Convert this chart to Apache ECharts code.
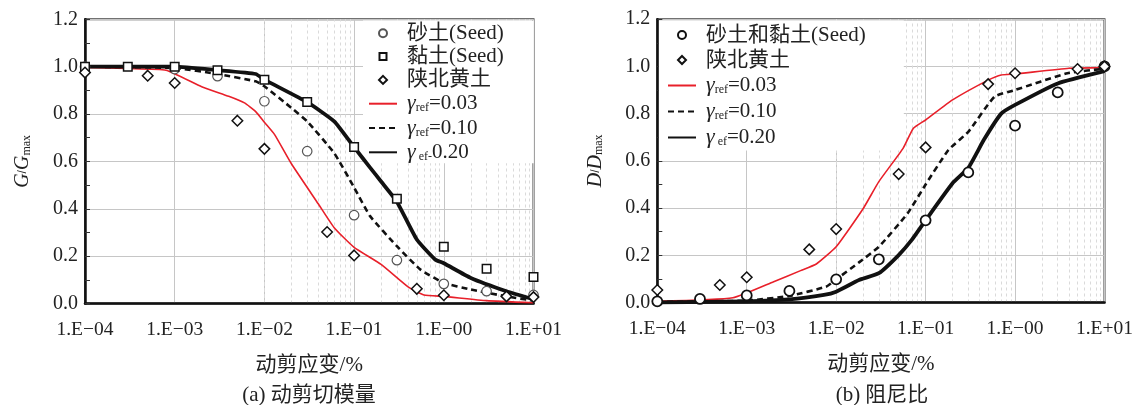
<!DOCTYPE html>
<html>
<head>
<meta charset="utf-8">
<script src="https://cdn.jsdelivr.net/npm/echarts@6/dist/echarts.min.js"></script>
<style>
  html, body { margin: 0; padding: 0; background: #fff; }
  #chart { width: 1136px; height: 405px; }
</style>
</head>
<body>
<div id="chart"></div>
<script>
// axis tick labels
const xTickLabels = ['1.E\u221204', '1.E\u221203', '1.E\u221202', '1.E\u221201', '1.E\u221200', '1.E+01'];
const yTickLabels = ['0.0', '0.2', '0.4', '0.6', '0.8', '1.0', '1.2'];

// (a) G/Gmax - test points
const gSandStrain = [1e-4, 1e-3, 3e-3, 1e-2, 3e-2, 0.1, 0.3, 1, 3, 10];
const gSand = [1.0, 0.99, 0.96, 0.854, 0.643, 0.373, 0.183, 0.083, 0.052, 0.036];
const gClayStrain = [1e-4, 3e-4, 1e-3, 3e-3, 1e-2, 3e-2, 0.1, 0.3, 1, 3, 10];
const gClay = [1.0, 1.0, 1.0, 0.985, 0.945, 0.851, 0.661, 0.442, 0.24, 0.147, 0.112];
const gLoessStrain = [1e-4, 5e-4, 1e-3, 5e-3, 1e-2, 5e-2, 0.1, 0.5, 1, 5, 10];
const gLoess = [0.975, 0.962, 0.931, 0.772, 0.653, 0.302, 0.203, 0.062, 0.035, 0.03, 0.027];

// (a) G/Gmax - model curves
const gRef003Strain = [1e-4, 3e-4, 8e-4, 2e-3, 4e-3, 6e-3, 8e-3, 1e-2, 1.3e-2, 2e-2, 4e-2, 6e-2, 0.1, 0.2, 0.4, 0.6, 1, 3, 10];
const gRef003 = [0.997, 0.992, 0.985, 0.915, 0.875, 0.847, 0.81, 0.765, 0.713, 0.59, 0.42, 0.32, 0.237, 0.165, 0.07, 0.036, 0.03, 0.012, 0.003];
const gRef010Strain = [1e-4, 1e-3, 3e-3, 8e-3, 1e-2, 2e-2, 3e-2, 6e-2, 0.1, 0.15, 0.3, 0.55, 1, 2, 5, 10];
const gRef010 = [1.0, 0.994, 0.969, 0.938, 0.917, 0.826, 0.769, 0.635, 0.49, 0.37, 0.242, 0.143, 0.087, 0.059, 0.03, 0.012];
const gRef020Strain = [1e-4, 1e-3, 3e-3, 8e-3, 1e-2, 3e-2, 6e-2, 0.1, 0.15, 0.2, 0.3, 0.5, 0.8, 1, 2, 5, 10];
const gRef020 = [1.0, 1.0, 0.985, 0.969, 0.945, 0.85, 0.769, 0.66, 0.575, 0.515, 0.43, 0.27, 0.186, 0.17, 0.108, 0.052, 0.018];

// (b) D/Dmax - test points
const dSeedStrain = [1e-4, 3e-4, 1e-3, 3e-3, 1e-2, 3e-2, 0.1, 0.3, 1, 3, 10];
const dSeed = [0.005, 0.015, 0.03, 0.049, 0.098, 0.183, 0.348, 0.551, 0.749, 0.89, 1.0];
const dLoessStrain = [1e-4, 5e-4, 1e-3, 5e-3, 1e-2, 5e-2, 0.1, 0.5, 1, 5, 10];
const dLoess = [0.053, 0.074, 0.107, 0.225, 0.311, 0.544, 0.657, 0.925, 0.971, 0.989, 1.0];

// (b) D/Dmax - model curves
const dRef003Strain = [1e-4, 7e-4, 2e-3, 4e-3, 6e-3, 1e-2, 2e-2, 3e-2, 5.6e-2, 7.3e-2, 0.1, 0.2, 0.5, 0.7, 1, 4, 10];
const dRef003 = [0.005, 0.02, 0.088, 0.135, 0.163, 0.236, 0.397, 0.512, 0.653, 0.738, 0.773, 0.858, 0.942, 0.964, 0.968, 0.992, 0.995];
const dRef010Strain = [1e-4, 1e-3, 3e-3, 7.7e-3, 1e-2, 1.8e-2, 3e-2, 6.3e-2, 0.1, 0.18, 0.3, 0.59, 1, 3.85, 10];
const dRef010 = [0.002, 0.008, 0.028, 0.067, 0.098, 0.17, 0.236, 0.378, 0.5, 0.646, 0.723, 0.872, 0.9, 0.971, 0.99];
const dRef020Strain = [1e-4, 1e-3, 3e-3, 7.3e-3, 1e-2, 1.8e-2, 3e-2, 5e-2, 7e-2, 0.1, 0.2, 0.3, 0.45, 0.7, 1, 3, 10];
const dRef020 = [0.0, 0.005, 0.013, 0.032, 0.046, 0.095, 0.124, 0.201, 0.265, 0.348, 0.505, 0.57, 0.69, 0.8, 0.837, 0.928, 0.98];

const legendText = {
  'γref=0.03': '{g|γ}{s|ref}=0.03',
  'γref=0.10': '{g|γ}{s|ref}=0.10',
  'γef-0.20': '{g|γ}{s| ef-}0.20',
  'γef=0.20': '{g|γ}{s| ef}=0.20'
};

// minor grid positions 2..9 in each decade
const minorStrain = [];
[1e-4, 1e-3, 1e-2, 1e-1, 1].forEach(d => {
  for (let k = 2; k <= 9; k++) minorStrain.push(d * k);
});

const FONT = "'Liberation Serif', 'Noto Sans CJK SC', serif";
const TXT = '#222';

// legend marker icons padded to the 28x8 icon box so they keep their shape
const ICON_RECT = 'path://M0,0M28,8M10.5,0.5L17.5,0.5L17.5,7.5L10.5,7.5Z';
const ICON_DIAMOND = 'path://M0,0M28,8M14,0L18,4L14,8L10,4Z';

const pts = (xs, ys) => xs.map((x, i) => [x, ys[i]]);

const xAxisBase = (gi) => ({
  type: 'log',
  logBase: 10,
  gridIndex: gi,
  min: 1e-4,
  max: 10,
  name: '动剪应变/%',
  nameLocation: 'middle',
  nameGap: 51,
  nameTextStyle: { fontFamily: FONT, fontSize: 21, color: TXT },
  axisLine: { lineStyle: { color: '#111', width: 2.5 } },
  axisTick: { show: false },
  axisLabel: {
    margin: 17,
    fontFamily: FONT,
    fontSize: 19.5,
    color: TXT,
    formatter: v => xTickLabels[Math.round(Math.log10(v)) + 4]
  },
  splitLine: { show: true, lineStyle: { color: '#c6c6c6', width: 1 } }
});

const yAxisBase = (gi, letter) => ({
  type: 'value',
  gridIndex: gi,
  min: 0,
  max: 1.2,
  interval: 0.2,
  name: '{i|' + letter + '}/{i|' + letter + '}{s|max}',
  nameLocation: 'middle',
  nameRotate: 90,
  nameGap: 52,
  nameTextStyle: {
    color: TXT,
    rich: {
      i: { fontFamily: FONT, fontStyle: 'italic', fontSize: 20, lineHeight: 20, color: TXT },
      s: { fontFamily: FONT, fontSize: 12, lineHeight: 8, verticalAlign: 'bottom', color: TXT }
    }
  },
  axisLine: { show: true, lineStyle: { color: '#111', width: 2.5 } },
  axisTick: { show: true, inside: true, length: 5, lineStyle: { color: '#333' } },
  minorTick: { show: true, splitNumber: 2, length: 5, lineStyle: { color: '#333' } },
  axisLabel: {
    margin: 7,
    fontFamily: FONT,
    fontSize: 20,
    color: TXT,
    formatter: v => yTickLabels[Math.round(v / 0.2)]
  },
  splitLine: { show: true, lineStyle: { color: '#c6c6c6', width: 1 } }
});

const minorGrid = (gi) => ({
  name: 'minor' + gi,
  type: 'line',
  xAxisIndex: gi,
  yAxisIndex: gi,
  data: [],
  silent: true,
  z: 0,
  markLine: {
    silent: true,
    z: 0,
    symbol: ['none', 'none'],
    label: { show: false },
    lineStyle: { color: '#dadada', width: 1, type: [3, 3] },
    data: minorStrain.map(v => ({ xAxis: v }))
  }
});

const curve = (gi, name, xs, ys, color, width, dash) => ({
  name: name,
  type: 'line',
  xAxisIndex: gi,
  yAxisIndex: gi,
  data: pts(xs, ys),
  symbol: 'none',
  smooth: 0.15,
  z: 2,
  lineStyle: { color: color, width: width, type: dash, join: 'round' },
  itemStyle: { color: color }
});

const marks = (gi, name, xs, ys, symbol, size, border, bw) => ({
  name: name,
  type: 'scatter',
  xAxisIndex: gi,
  yAxisIndex: gi,
  data: pts(xs, ys),
  symbol: symbol,
  symbolSize: size,
  z: 3,
  itemStyle: { color: '#fff', borderColor: border, borderWidth: bw, opacity: 1 }
});

const lineItem = name => ({ name: name, itemStyle: { opacity: 0 } });

const legendBase = {
  orient: 'vertical',
  z: 1,
  backgroundColor: '#fff',
  itemWidth: 28,
  itemHeight: 8,
  textStyle: {
    fontFamily: FONT,
    fontSize: 21,
    lineHeight: 21,
    color: TXT,
    padding: [0, 0, 0, 5],
    rich: {
      g: { fontFamily: FONT, fontStyle: 'italic', fontSize: 22, lineHeight: 21, color: TXT },
      s: { fontFamily: FONT, fontSize: 12, lineHeight: 8, verticalAlign: 'bottom', color: TXT }
    }
  },
  formatter: name => legendText[name] || name
};

const chart = echarts.init(document.getElementById('chart'));

chart.setOption({
  animation: false,
  backgroundColor: '#fff',
  title: [
    { text: '(a) 动剪切模量', left: 309, top: 395, padding: 0, textAlign: 'center', textVerticalAlign: 'middle',
      textStyle: { fontFamily: FONT, fontSize: 21, fontWeight: 'normal', color: TXT } },
    { text: '(b) 阻尼比', left: 882, top: 395, padding: 0, textAlign: 'center', textVerticalAlign: 'middle',
      textStyle: { fontFamily: FONT, fontSize: 21, fontWeight: 'normal', color: TXT } }
  ],
  grid: [
    { left: 85, top: 19.3, width: 448.5, height: 284.2, show: true, borderColor: '#444', borderWidth: 2, backgroundColor: 'transparent' },
    { left: 657.3, top: 19.2, width: 450, height: 283.3, show: true, borderColor: '#444', borderWidth: 2, backgroundColor: 'transparent' }
  ],
  xAxis: [xAxisBase(0), xAxisBase(1)],
  yAxis: [yAxisBase(0, 'G'), yAxisBase(1, 'D')],
  legend: [
    Object.assign({}, legendBase, {
      left: 363, top: 20.5, padding: [2.3, 30, 0, 5], itemGap: 2.3,
      data: [
        '砂土(Seed)',
        { name: '黏土(Seed)', icon: ICON_RECT },
        { name: '陕北黄土', icon: ICON_DIAMOND },
        lineItem('γref=0.03'), lineItem('γref=0.10'), lineItem('γef-0.20')
      ]
    }),
    Object.assign({}, legendBase, {
      left: 659, top: 20.5, padding: [4, 38, 2, 8], itemGap: 4,
      data: [
        '砂土和黏土(Seed)',
        { name: '陕北黄土', icon: ICON_DIAMOND },
        lineItem('γref=0.03'), lineItem('γref=0.10'), lineItem('γef=0.20')
      ]
    })
  ],
  series: [
    minorGrid(0),
    minorGrid(1),
    curve(0, 'γref=0.03', gRef003Strain, gRef003, '#e8202a', 1.6, 'solid'),
    curve(0, 'γref=0.10', gRef010Strain, gRef010, '#111', 2.6, [6, 4]),
    curve(0, 'γef-0.20', gRef020Strain, gRef020, '#111', 3.8, 'solid'),
    marks(0, '砂土(Seed)', gSandStrain, gSand, 'circle', 9.5, '#555', 1.2),
    marks(0, '黏土(Seed)', gClayStrain, gClay, 'rect', 8.5, '#111', 1.5),
    marks(0, '陕北黄土', gLoessStrain, gLoess, 'diamond', 10.5, '#111', 1.5),
    curve(1, 'γref=0.03', dRef003Strain, dRef003, '#e8202a', 1.6, 'solid'),
    curve(1, 'γref=0.10', dRef010Strain, dRef010, '#111', 2.6, [6, 4]),
    curve(1, 'γef=0.20', dRef020Strain, dRef020, '#111', 3.8, 'solid'),
    marks(1, '砂土和黏土(Seed)', dSeedStrain, dSeed, 'circle', 10, '#111', 1.8),
    marks(1, '陕北黄土', dLoessStrain, dLoess, 'diamond', 10.5, '#111', 1.5)
  ]
});
</script>
</body>
</html>
